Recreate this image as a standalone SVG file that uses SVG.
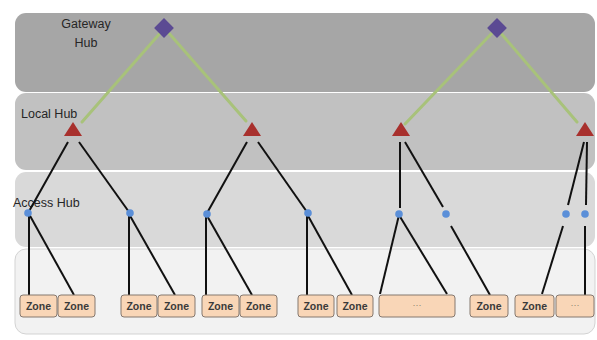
<svg xmlns="http://www.w3.org/2000/svg" width="597" height="340" viewBox="0 0 597 340">
<style>
.band{stroke:none}
.lbl{font-family:"Liberation Sans",Arial,sans-serif;font-size:12.5px;fill:#262626}
.zone rect{fill:#f9d6b7;stroke:#85786f;stroke-width:1}
.zone text{font-family:"Liberation Sans",Arial,sans-serif;font-size:10.5px;font-weight:bold;fill:#3a3a3a;text-anchor:middle}
.dots text{font-family:"Liberation Sans",Arial,sans-serif;font-size:9px;font-weight:normal;fill:#8a8070;text-anchor:middle}
.g{stroke:#a8c27a;stroke-width:3;stroke-linecap:round;fill:none}
.k{stroke:#111;stroke-width:2;fill:none}
.tri{fill:#a8302d}
.dia{fill:#5b4a93}
.dot{fill:#5b8fd8}
</style>
<rect width="597" height="340" fill="#ffffff"/>
<g id="bands">
<rect x="15" y="249" width="580" height="85" rx="11" fill="#f2f2f2" stroke="#d3d3d3"/>
<rect class="band" x="15" y="172" width="580" height="75" rx="11" fill="#d9d9d9"/>
<rect class="band" x="15" y="93" width="580" height="77" rx="11" fill="#c1c1c1"/>
<rect class="band" x="15" y="13" width="580" height="79" rx="11" fill="#a6a6a6"/>
</g>
<g id="labels">
<text class="lbl" x="86" y="28" text-anchor="middle">Gateway</text>
<text class="lbl" x="86" y="47" text-anchor="middle">Hub</text>
<text class="lbl" x="21" y="118">Local Hub</text>
<text class="lbl" x="13" y="207">Access Hub</text>
</g>
<g id="connectors">
<line class="g" x1="162" y1="31" x2="82" y2="122"/>
<line class="g" x1="167" y1="31" x2="246" y2="121"/>
<line class="g" x1="494" y1="31" x2="405" y2="124"/>
<line class="g" x1="499" y1="31" x2="577" y2="122"/>
<line class="k" x1="68" y1="142" x2="28" y2="213"/>
<line class="k" x1="79" y1="142" x2="129" y2="212"/>
<line class="k" x1="247" y1="142" x2="207" y2="213"/>
<line class="k" x1="258" y1="142" x2="307" y2="212"/>
<line class="k" x1="400" y1="142" x2="400" y2="208"/>
<line class="k" x1="405" y1="142" x2="443" y2="207"/>
<line class="k" x1="584" y1="142" x2="568" y2="205"/>
<line class="k" x1="587" y1="142" x2="586" y2="205"/>
<line class="k" x1="29" y1="214" x2="29" y2="295"/>
<line class="k" x1="29" y1="214" x2="74" y2="295"/>
<line class="k" x1="129" y1="214" x2="129" y2="295"/>
<line class="k" x1="129" y1="214" x2="175" y2="295"/>
<line class="k" x1="206" y1="214" x2="206" y2="295"/>
<line class="k" x1="206" y1="214" x2="252" y2="295"/>
<line class="k" x1="307" y1="214" x2="307" y2="295"/>
<line class="k" x1="307" y1="214" x2="352" y2="295"/>
<line class="k" x1="399" y1="215" x2="380" y2="294"/>
<line class="k" x1="399" y1="215" x2="447" y2="294"/>
<line class="k" x1="451" y1="226" x2="490" y2="295"/>
<line class="k" x1="563" y1="226" x2="542" y2="294"/>
<line class="k" x1="585" y1="226" x2="585" y2="295"/>
</g>
<g id="gateway-1"><rect class="dia" x="157" y="21" width="14" height="14" transform="rotate(45 164 28)"/></g>
<g id="gateway-2"><rect class="dia" x="490" y="21" width="14" height="14" transform="rotate(45 497 28)"/></g>
<g id="local-1"><polygon class="tri" points="73,122 64,136 82,136"/></g>
<g id="local-2"><polygon class="tri" points="252,122 243,136 261,136"/></g>
<g id="local-3"><polygon class="tri" points="401,122 392,136 410,136"/></g>
<g id="local-4"><polygon class="tri" points="585,122 576,136 594,136"/></g>
<g id="access-1"><circle class="dot" cx="28" cy="213" r="3.8"/></g>
<g id="access-2"><circle class="dot" cx="130" cy="213" r="3.8"/></g>
<g id="access-3"><circle class="dot" cx="207" cy="214" r="3.8"/></g>
<g id="access-4"><circle class="dot" cx="308" cy="213" r="3.8"/></g>
<g id="access-5"><circle class="dot" cx="399" cy="214" r="3.8"/></g>
<g id="access-6"><circle class="dot" cx="446" cy="214" r="3.8"/></g>
<g id="access-7"><circle class="dot" cx="566" cy="214" r="3.8"/></g>
<g id="access-8"><circle class="dot" cx="585" cy="214" r="3.8"/></g>
<g id="zone-1" class="zone"><rect x="20" y="295" width="37" height="22" rx="3"/><text x="38.5" y="310">Zone</text></g>
<g id="zone-2" class="zone"><rect x="58" y="295" width="37" height="22" rx="3"/><text x="76.5" y="310">Zone</text></g>
<g id="zone-3" class="zone"><rect x="121" y="295" width="36" height="22" rx="3"/><text x="139" y="310">Zone</text></g>
<g id="zone-4" class="zone"><rect x="158" y="295" width="37" height="22" rx="3"/><text x="176.5" y="310">Zone</text></g>
<g id="zone-5" class="zone"><rect x="202" y="295" width="37" height="22" rx="3"/><text x="220.5" y="310">Zone</text></g>
<g id="zone-6" class="zone"><rect x="240" y="295" width="37" height="22" rx="3"/><text x="258.5" y="310">Zone</text></g>
<g id="zone-7" class="zone"><rect x="298" y="295" width="36" height="22" rx="3"/><text x="316" y="310">Zone</text></g>
<g id="zone-8" class="zone"><rect x="337" y="295" width="36" height="22" rx="3"/><text x="355" y="310">Zone</text></g>
<g id="zone-9" class="zone dots"><rect x="379" y="295" width="76" height="22" rx="3"/><text x="417" y="308">···</text></g>
<g id="zone-10" class="zone"><rect x="470" y="295" width="38" height="22" rx="3"/><text x="489" y="310">Zone</text></g>
<g id="zone-11" class="zone"><rect x="515" y="295" width="39" height="22" rx="3"/><text x="534.5" y="310">Zone</text></g>
<g id="zone-12" class="zone dots"><rect x="556" y="295" width="38" height="22" rx="3"/><text x="575" y="308">···</text></g>
</svg>
